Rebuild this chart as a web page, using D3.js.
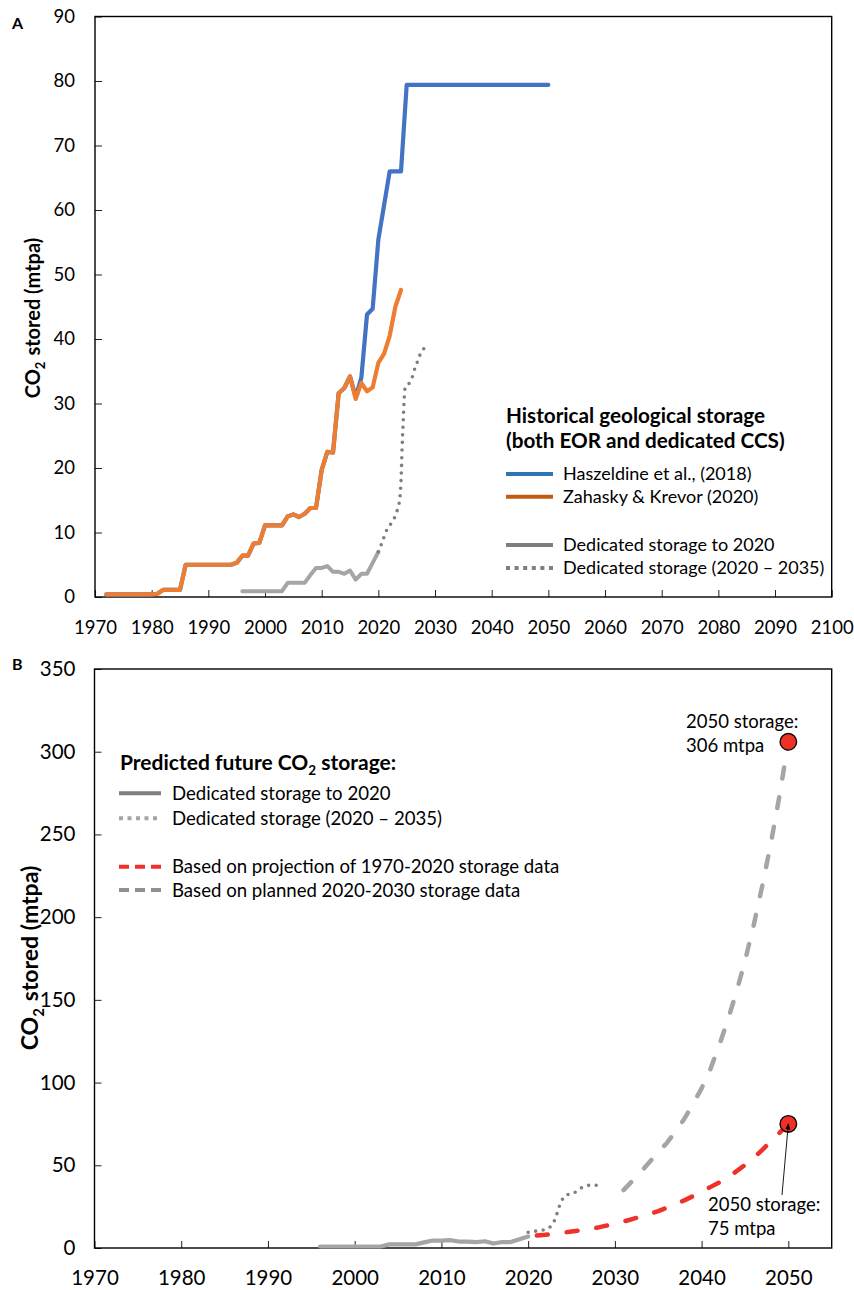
<!DOCTYPE html>
<html>
<head>
<meta charset="utf-8">
<script src="https://cdn.jsdelivr.net/npm/d3@7"></script>
<style>
  body { margin: 0; background: #fff; }
  svg text { font-family: Lato, "Open Sans", sans-serif; fill: #000; }
</style>
</head>
<body>
<svg id="chart" width="854" height="1290"></svg>
<script>
// ---- Data: [year, CO2 stored (mtpa)] ----
const haszeldine = [
  [1972,0.4],[1980,0.4],[1981,0.5],[1982,1.1],[1985,1.1],[1986,5.0],[1994,5.0],[1995,5.3],
  [1996,6.4],[1997,6.4],[1998,8.3],[1999,8.4],[2000,11.1],[2003,11.1],[2004,12.5],[2005,12.8],
  [2006,12.4],[2007,12.9],[2008,13.8],[2009,13.8],[2010,19.7],[2011,22.5],[2012,22.4],[2013,31.6],
  [2014,32.4],[2015,34.2],[2016,31.0],[2017,34.0],[2018,43.8],[2019,44.7],[2020,55.4],[2022,66.0],
  [2024,66.0],[2025,79.4],[2050,79.4]
];
const zahaskyKrevor = [
  [1972,0.4],[1980,0.4],[1981,0.5],[1982,1.1],[1985,1.1],[1986,5.0],[1994,5.0],[1995,5.3],
  [1996,6.4],[1997,6.4],[1998,8.3],[1999,8.4],[2000,11.1],[2003,11.1],[2004,12.5],[2005,12.8],
  [2006,12.4],[2007,12.9],[2008,13.8],[2009,13.8],[2010,19.7],[2011,22.5],[2012,22.4],[2013,31.6],
  [2014,32.4],[2015,34.2],[2016,30.7],[2017,33.2],[2018,31.9],[2019,32.5],[2020,36.3],[2021,37.7],
  [2022,40.5],[2023,45.0],[2024,47.6]
];
const dedicatedTo2020 = [
  [1996,0.9],[2003,0.9],[2004,2.2],[2007,2.2],[2008,3.4],[2009,4.5],[2010,4.5],[2011,4.8],
  [2012,3.9],[2013,3.9],[2014,3.6],[2015,4.1],[2016,2.7],[2017,3.6],[2018,3.6],[2019,5.3],[2020,7.0]
];
const dedicatedPlannedA = [
  [2020,7.0],[2020.5,8.1],[2021.6,10.6],[2022.5,11.7],[2023.1,12.8],[2023.5,14.0],[2023.8,15.3],
  [2024.0,18.0],[2024.2,23.3],[2024.4,27.5],[2024.7,32.3],[2025.0,32.8],[2025.7,33.4],[2026.5,35.6],
  [2027.1,36.9],[2027.5,37.9],[2028.6,38.8]
];
const dedicatedPlannedB = [
  [2020,9.5],[2021,10.3],[2022,11.3],[2022.8,14.3],[2023.2,18.8],[2023.5,23.8],[2023.9,28.9],
  [2024.4,31.9],[2025.3,33.3],[2026.2,36.5],[2027.1,37.9],[2028.1,37.9]
];
const projectionHistoric = [
  [2021,7.5],[2022,8.0],[2023,8.7],[2024,9.3],[2025,10.0],[2026,10.7],[2027,11.5],[2028,12.3],
  [2029,13.5],[2030,14.8],[2031,16.0],[2032,17.5],[2033,19.0],[2034,20.5],[2035,22.3],[2036,24.3],
  [2037,26.5],[2038,28.8],[2039,31.3],[2040,34.0],[2041,36.8],[2042,39.5],[2043,42.8],[2044,46.3],
  [2045,50.2],[2046,54.5],[2047,59.3],[2048,64.5],[2049,69.7],[2050,75.0]
];
const projectionPlanned = [
  [2031,35.0],[2032,40.5],[2033,46.0],[2034,52.0],[2035,58.0],[2036,63.5],[2037,70.5],[2038,78.0],
  [2039,87.0],[2040,96.5],[2041,108.0],[2042,122.0],[2043,137.5],[2044,154.5],[2045,173.5],
  [2046,195.0],[2047,219.0],[2048,245.0],[2049,274.0],[2050,306.0]
];
const endpoints2050 = [[2050,306],[2050,75]];

const xTicksA = [1970,1980,1990,2000,2010,2020,2030,2040,2050,2060,2070,2080,2090,2100];
const yTicksA = [0,10,20,30,40,50,60,70,80,90];
const xTicksB = [1970,1980,1990,2000,2010,2020,2030,2040,2050];
const yTicksB = [0,50,100,150,200,250,300,350];

const legendA = ["Haszeldine et al., (2018)","Zahasky & Krevor (2020)","Dedicated storage to 2020","Dedicated storage (2020 \u2013 2035)"];
const legendB = ["Dedicated storage to 2020","Dedicated storage (2020 \u2013 2035)","Based on projection of 1970-2020 storage data","Based on planned 2020-2030 storage data"];

// ---- Styles ----
const C = {
  blue: "#4472C4", orange: "#ED7D31", grayLight: "#A5A5A5", grayDark: "#7F7F7F",
  red: "#F0302A", legBlue: "#2E75B6", legOrange: "#C55A11"
};

const svg = d3.select("#chart");
const defs = svg.append("defs");
defs.append("marker").attr("id","arrow").attr("viewBox","0 0 10 10")
  .attr("refX",9).attr("refY",5).attr("markerWidth",7).attr("markerHeight",7)
  .attr("orient","auto")
  .append("path").attr("d","M0,1 L10,5 L0,9 Z").attr("fill","#000");

function drawFrame(g, x, y, xTicks, yTicks, font, padX, padY) {
  const [x0, x1] = x.range();
  const [y0, y1] = y.range();
  g.append("g").attr("transform",`translate(0,${y0})`)
    .call(d3.axisBottom(x).tickValues(xTicks).tickFormat(d3.format("d"))
      .tickSizeInner(-7).tickSizeOuter(0).tickPadding(padX))
    .call(a => a.select(".domain").remove())
    .call(a => a.selectAll("text").attr("font-size",font).attr("fill","#000"))
    .call(a => a.selectAll("line").attr("stroke","#222"));
  g.append("g").attr("transform",`translate(${x0},0)`)
    .call(d3.axisLeft(y).tickValues(yTicks).tickFormat(d3.format("d"))
      .tickSizeInner(-7).tickSizeOuter(0).tickPadding(padY))
    .call(a => a.select(".domain").remove())
    .call(a => a.selectAll("text").attr("font-size",font).attr("fill","#000"))
    .call(a => a.selectAll("line").attr("stroke","#222"));
  g.append("rect").attr("x",x0).attr("y",y1).attr("width",x1-x0).attr("height",y0-y1)
    .attr("fill","none").attr("stroke","#000").attr("stroke-width",1.4);
}

function yTitle(g, cx, cy, size) {
  const t = g.append("text").attr("transform",`translate(${cx},${cy}) rotate(-90)`)
    .attr("text-anchor","middle").attr("font-size",size).attr("font-weight",700);
  t.append("tspan").text("CO");
  t.append("tspan").attr("font-size",size*0.65).attr("dy",size*0.25).text("2");
  t.append("tspan").attr("dy",-size*0.25).attr("dx",size*0.3).text("stored (mtpa)");
}

function series(g, data, x, y, stroke, opts = {}) {
  const line = d3.line().x(d => x(d[0])).y(d => y(d[1]));
  if (opts.curve) line.curve(opts.curve);
  g.append("path").datum(data).attr("d", line)
    .attr("fill","none").attr("stroke",stroke)
    .attr("stroke-width", opts.width || 4)
    .attr("stroke-linejoin","round").attr("stroke-linecap","round")
    .attr("stroke-dasharray", opts.dash || null);
}

const DOT = "0 7.6";
const DASH = "11 19";

// ================= Panel A =================
const xA = d3.scaleLinear().domain([1970,2100]).range([95,831.7]);
const yA = d3.scaleLinear().domain([0,90]).range([597,16.5]);
const gA = svg.append("g");
drawFrame(gA, xA, yA, xTicksA, yTicksA, 18.5, 24, 20);
yTitle(gA, 40, 318, 20);
gA.append("text").attr("x",12).attr("y",29).attr("font-size",16).attr("font-weight",700).text("A");

series(gA, haszeldine, xA, yA, C.blue, {width:4.2});
series(gA, zahaskyKrevor, xA, yA, C.orange, {width:4.2});
series(gA, dedicatedTo2020, xA, yA, C.grayLight, {width:4});
series(gA, dedicatedPlannedA, xA, yA, C.grayDark, {width:3.6, dash:DOT, curve:d3.curveMonotoneX});

// Legend A
const lgA = gA.append("g");
lgA.append("text").attr("x",506).attr("y",423).attr("font-size",20.7).attr("font-weight",700)
  .text("Historical geological storage");
lgA.append("text").attr("x",506).attr("y",448).attr("font-size",20.7).attr("font-weight",700)
  .text("(both EOR and dedicated CCS)");
const legAStyle = [
  {c:C.legBlue, y:474, dash:null},
  {c:C.legOrange, y:496.7, dash:null},
  {c:C.grayDark, y:545, dash:null},
  {c:C.grayDark, y:568, dash:"4 4.6"}
];
legendA.forEach((label,i) => {
  const s = legAStyle[i];
  lgA.append("line").attr("x1",506).attr("x2",553).attr("y1",s.y).attr("y2",s.y)
    .attr("stroke",s.c).attr("stroke-width",4).attr("stroke-dasharray",s.dash);
  lgA.append("text").attr("x",563).attr("y",s.y+6.3).attr("font-size",18).text(label);
});

// ================= Panel B =================
const xB = d3.scaleLinear().domain([1970,2055]).range([94.5,831.7]);
const yB = d3.scaleLinear().domain([0,350]).range([1248,669]);
const gB = svg.append("g");
drawFrame(gB, xB, yB, xTicksB, yTicksB, 20.5, 22.5, 19);
yTitle(gB, 38, 958, 23);
gB.append("text").attr("x",12).attr("y",670).attr("font-size",16).attr("font-weight",700).text("B");

series(gB, dedicatedTo2020, xB, yB, C.grayLight, {width:4.2});
series(gB, dedicatedPlannedB, xB, yB, C.grayDark, {width:3.6, dash:DOT, curve:d3.curveMonotoneX});
series(gB, projectionHistoric, xB, yB, C.red, {width:4.5, dash:DASH});
series(gB, projectionPlanned, xB, yB, C.grayLight, {width:4.5, dash:DASH});

// 2050 end points
gB.selectAll("circle.end").data(endpoints2050).join("circle").attr("class","end")
  .attr("cx", d => xB(d[0])).attr("cy", d => yB(d[1])).attr("r",8.3)
  .attr("fill","#EE3124").attr("stroke","#000").attr("stroke-width",1.3);

// Annotations
const topPt = endpoints2050[0], lowPt = endpoints2050[1];
gB.append("text").attr("x",686).attr("y",728).attr("font-size",18.5).text(`${topPt[0]} storage:`);
gB.append("text").attr("x",686).attr("y",752).attr("font-size",18.5).text(`${topPt[1]} mtpa`);
gB.append("line").attr("x1",782).attr("y1",1195)
  .attr("x2",xB(lowPt[0])).attr("y2",yB(lowPt[1]))
  .attr("stroke","#000").attr("stroke-width",0.9).attr("marker-end","url(#arrow)");
gB.append("text").attr("x",708).attr("y",1211).attr("font-size",18.5).text(`${lowPt[0]} storage:`);
gB.append("text").attr("x",708).attr("y",1235).attr("font-size",18.5).text(`${lowPt[1]} mtpa`);

// Legend B
const lgB = gB.append("g");
const tB = lgB.append("text").attr("x",120).attr("y",770).attr("font-size",21).attr("font-weight",700);
tB.append("tspan").text("Predicted future CO");
tB.append("tspan").attr("font-size",13.5).attr("dy",5).text("2");
tB.append("tspan").attr("dy",-5).text(" storage:");
const legBStyle = [
  {c:C.grayDark, y:793.3, dash:null},
  {c:C.grayLight, y:818.3, dash:"4 4.5"},
  {c:C.red, y:866.7, dash:"10 6"},
  {c:"#909090", y:890, dash:"10 6"}
];
legendB.forEach((label,i) => {
  const s = legBStyle[i];
  lgB.append("line").attr("x1",119).attr("x2",161).attr("y1",s.y).attr("y2",s.y)
    .attr("stroke",s.c).attr("stroke-width",4).attr("stroke-dasharray",s.dash);
  lgB.append("text").attr("x",172).attr("y",s.y+6.5).attr("font-size",18.6).text(label);
});
</script>
</body>
</html>
